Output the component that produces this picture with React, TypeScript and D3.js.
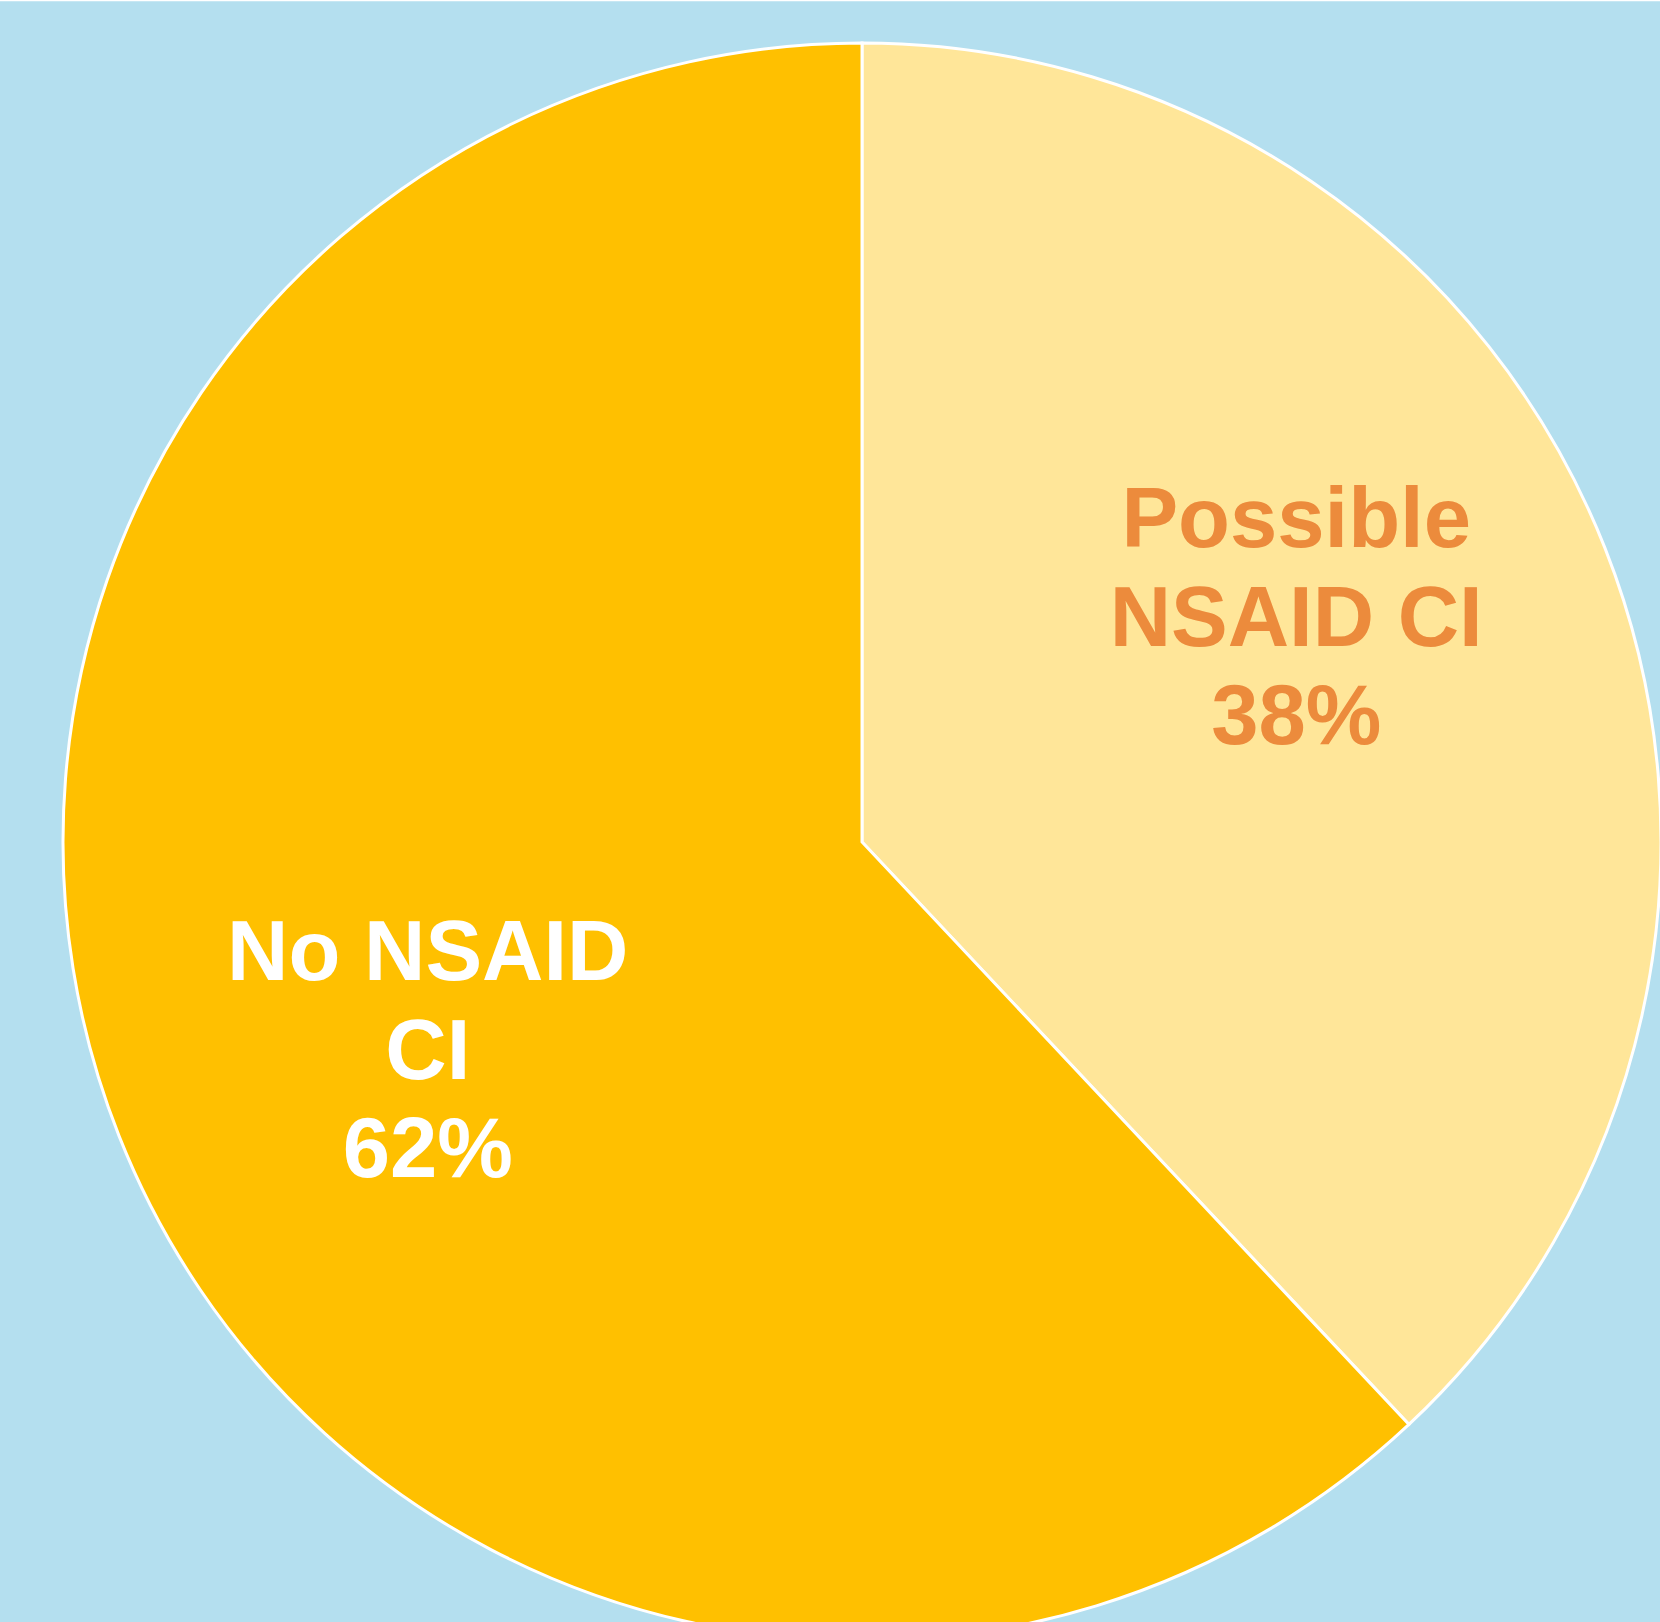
import React, { useEffect } from "react";
import * as d3 from "d3";

const categories = ["Possible NSAID CI", "No NSAID CI"];
const values = [38, 62];
const labelLines = [["Possible", "NSAID CI", "38%"], ["No NSAID", "CI", "62%"]];
const colors = ["#FFE699", "#FFC000"];
const labelColors = ["#EC8B3C", "#FFFFFF"];

const W = 1660;
const H = 1622;
const cx = 862;
const cy = 842;
const R = 799;

export default function App() {
  useEffect(() => {
    document.body.style.margin = "0";
  }, []);

  const pie = d3.pie<number>().sort(null).value((d) => d);
  const arcs = pie(values);
  const arc = d3.arc<d3.PieArcDatum<number>>().innerRadius(0).outerRadius(R);
  const labelArc = d3.arc<d3.PieArcDatum<number>>().innerRadius(467).outerRadius(467);
  const dyShift = [-55, 34];
  const lineH = 98.5;
  const fontSize = 85;

  return (
    <svg width={W} height={H} style={{ display: "block" }}>
      <rect x={0} y={0} width={W} height={H} fill="#B4DFEF" />
      <line x1={0} x2={W} y1={0.5} y2={0.5} stroke="#FFFFFF" strokeWidth={1.5} />
      <g transform={`translate(${cx},${cy})`}>
        {arcs.map((a, i) => (
          <path key={categories[i]} d={arc(a) || ""} fill={colors[i]} stroke="#FFFFFF" strokeWidth={3} strokeLinejoin="miter" />
        ))}
        {arcs.map((a, i) => {
          const [lx, ly] = labelArc.centroid(a);
          const yMid = ly + dyShift[i];
          const lines = labelLines[i];
          return (
            <text
              key={"l" + i}
              x={lx}
              textAnchor="middle"
              fill={labelColors[i]}
              fontFamily="'Liberation Sans', Arial, sans-serif"
              fontWeight="bold"
              fontSize={fontSize}
            >
              {lines.map((t, j) => (
                <tspan key={j} x={lx} y={yMid + (j - (lines.length - 1) / 2) * lineH + fontSize * 0.36}>
                  {t}
                </tspan>
              ))}
            </text>
          );
        })}
      </g>
    </svg>
  );
}
